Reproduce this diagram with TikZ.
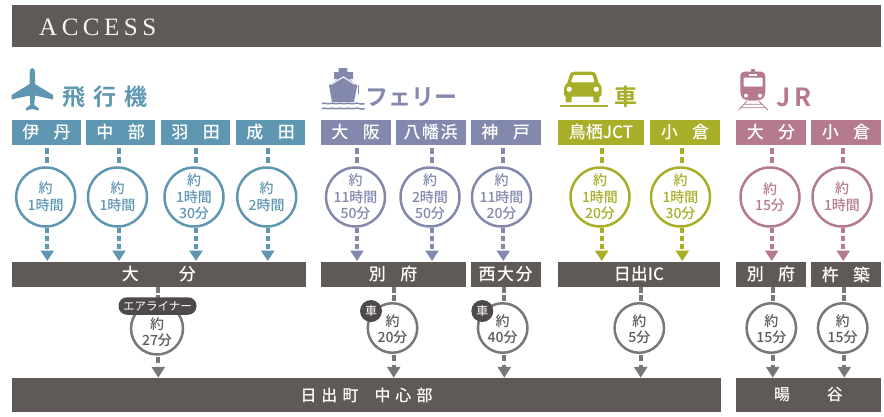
\documentclass[tikz,border=0pt]{standalone}
\usepackage{fontspec}
\usetikzlibrary{arrows.meta}
\setmainfont{Noto Sans CJK JP}[BoldFont={Noto Sans CJK JP Bold}]
\newfontfamily\medf{Noto Sans CJK JP Medium}
\newfontfamily\headf[LetterSpace=18]{Liberation Serif}
\definecolor{cblue}{HTML}{5F97B3}
\definecolor{cferry}{HTML}{8289AD}
\definecolor{ccar}{HTML}{A8AE28}
\definecolor{cjr}{HTML}{B67A90}
\definecolor{cdark}{HTML}{5F5A57}
\definecolor{cgray}{HTML}{7B7775}
\definecolor{cbadge}{HTML}{4F4A4A}
\tikzset{
  x=1pt,y=-1pt,
  lbl/.style={inner sep=0pt,outer sep=0pt,text=white,minimum height=25pt,font=\fontsize{17}{17}\selectfont\medf},
  bottomlbl/.style={lbl,minimum height=34.5pt,font=\fontsize{16}{16}\selectfont\medf},
  ring/.style={circle,draw=#1,line width=2.5pt,fill=white,inner sep=0pt,outer sep=0pt,minimum size=59pt,text=#1,font=\fontsize{14}{15}\selectfont\medf},
  lowring/.style={circle,draw=cgray,line width=2.5pt,fill=white,inner sep=0pt,outer sep=0pt,minimum size=#1,text=cdark,font=\fontsize{14}{15}\selectfont\medf},
  dashup/.style={line width=4pt,dash pattern=on 6pt off 3pt,shorten <=3pt,shorten >=4pt},
  arrowdn/.style={line width=4pt,dash pattern=on 5.5pt off 2.5pt,shorten <=1pt,-{Triangle[width=13pt,length=10.5pt]}},
  title/.style={inner sep=0pt,outer sep=0pt,font=\fontsize{23}{23}\selectfont\bfseries},
  badge/.style={circle,fill=cbadge,text=white,inner sep=0pt,outer sep=0pt,minimum size=22pt,font=\fontsize{12}{12}\selectfont},
  pill/.style={rounded corners=8.5pt,fill=cbadge,text=white,inner sep=0pt,outer sep=0pt,minimum width=78pt,minimum height=17.5pt,font=\fontsize{11.5}{12}\selectfont},
}
% text inside a ring that does not widen the ring
\newcommand\cc[2][-5pt]{\smash{\raisebox{#1}{\makebox[0pt]{\begin{tabular}[c]{@{}c@{}}#2\end{tabular}}}}}
\newcommand\upconn[5]{%
  \coordinate (tmp) at (#1,0);
  \draw[dashup,draw=#5] (#2.south -| tmp) -- (#3.north -| tmp);
  \draw[arrowdn,draw=#5,fill=#5,shorten >=1pt] (#3.south -| tmp) -- (#4.north -| tmp);
}
\newcommand\lowconn[4]{%
  \coordinate (tmp) at (#1,0);
  \draw[line width=4pt,draw=cgray,dash pattern=on 6pt off 2pt] (#2.south -| tmp) -- ([yshift=2pt]#3.north -| tmp);
  \draw[line width=4pt,draw=cgray,dash pattern=on 6pt off 4pt,-{Triangle[width=13pt,length=11pt]},shorten <=2pt,fill=cgray] (#3.south -| tmp) -- (#4.north -| tmp);
}
\begin{document}
\begin{tikzpicture}
\path[use as bounding box] (0,0) rectangle (884,416);
% header
\node[fill=cdark,minimum width=869pt,minimum height=42pt,inner sep=0pt,outer sep=0pt] (hdr) at (446.5,26) {};
\node[anchor=west,inner sep=0pt,text=white!94!cdark,font=\fontsize{25}{25}\headf] (acc) at (39,27.5) {ACCESS};

% titles
\node[title,text=cblue] (t1) at (105,97) {飛\hspace{8pt}行\hspace{8pt}機};
\node[title,text=cferry] (t2) at (411.5,97) {フェリー};
\node[title,text=ccar] (t3) at (626,97) {車};
\node[title,text=cjr,font=\fontsize{25}{25}\selectfont\bfseries] (t4) at (794,97) {J\hspace{4pt}R};

% icons: plane
\fill[cblue] (32.3,68) .. controls (30.5,68) and (29.7,70) .. (29.7,73) -- (29.7,84) -- (11.7,95) -- (11.7,99.5) -- (29.7,95.5) -- (30.3,105) -- (26,108) -- (26,110.5) -- (32.3,109) -- (38.5,110.5) -- (38.5,108) -- (34.3,105) -- (35,95.5) -- (53,99.5) -- (53,95) -- (35,84) -- (35,73) .. controls (35,70) and (34,68) .. (32.3,68) -- cycle;
% ship
\fill[cferry] (338.7,68) rectangle (347.3,72) (334,72) rectangle (353,79);
\fill[cferry] (329,85.3) -- (343.3,75) -- (357.3,85.3) -- (354,102) -- (332,102) -- cycle;
\draw[white,line width=1pt] (331,84.5) -- (343.3,77) -- (355,84.5);
\draw[cferry,line width=.7pt] (358.8,85) -- (358.8,94);
\draw[cferry,line width=1.5pt] (322,103.7) .. controls (325,101.7) and (327,105.2) .. (330,103.7) .. controls (333,101.7) and (335,105.2) .. (338,103.7) .. controls (341,101.7) and (343,105.2) .. (346,103.7) .. controls (349,101.7) and (351,105.2) .. (354,103.7) .. controls (357,101.7) and (360,105.2) .. (364.7,103.7);
\draw[cferry,line width=1.5pt] (322,108.7) .. controls (325,106.7) and (327,110.2) .. (330,108.7) .. controls (333,106.7) and (335,110.2) .. (338,108.7) .. controls (341,106.7) and (343,110.2) .. (346,108.7) .. controls (349,106.7) and (351,110.2) .. (354,108.7) .. controls (357,106.7) and (360,110.2) .. (364.7,108.7);
% car
\fill[ccar,rounded corners=2.5pt] (564,96.7) -- (564,86) -- (567,84) -- (570,74) -- (572,71.7) -- (594,71.7) -- (596,74) -- (599,84) -- (601.7,86) -- (601.7,96.7) -- cycle;
\fill[ccar,rounded corners=1pt] (565.7,94) rectangle (571.7,102.3) (593.3,94) rectangle (599.3,102.3);
\fill[white,rounded corners=1pt] (573.5,75) -- (592.5,75) -- (594.5,82.3) -- (571,82.3) -- cycle;
\fill[white] (569.3,89.3) circle (2.6) (596.3,89.3) circle (2.6);
\draw[ccar,line width=2.2pt] (560,106.3) -- (607.7,106.3);
% train
\fill[cjr,rounded corners=4pt] (740.3,71.7) -- (765.3,71.7) -- (765.3,96) -- (761,100.5) -- (745,100.5) -- (740.3,96) -- cycle;
\fill[cjr] (750.5,69) rectangle (755,72);
\fill[white] (748.7,74.3) rectangle (757,76);
\fill[white,rounded corners=1pt] (743.7,77.7) rectangle (762.7,86.7);
\fill[white] (746,95.7) circle (2) (760,95.7) circle (2);
\draw[cjr,line width=.8pt] (738.7,110) -- (747,101) (768,110) -- (758.7,101) (744,104.3) -- (763,104.3) (741.5,107.7) -- (765.5,107.7);

% top row boxes
\node[lbl,fill=cblue,minimum width=69.5pt] (b1) at (46.5,132.5) {伊\hspace{14.5pt}丹};
\node[lbl,fill=cblue,minimum width=69.5pt] (b2) at (120.7,132.5) {中\hspace{14.5pt}部};
\node[lbl,fill=cblue,minimum width=69.5pt] (b3) at (195.7,132.5) {羽\hspace{14.5pt}田};
\node[lbl,fill=cblue,minimum width=69.5pt] (b4) at (270.7,132.5) {成\hspace{14.5pt}田};
\node[lbl,fill=cferry,minimum width=70pt] (b5) at (355.7,132.5) {大\hspace{14.5pt}阪};
\node[lbl,fill=cferry,minimum width=70pt] (b6) at (430.7,132.5) {八\hspace{1.5pt}幡\hspace{1.5pt}浜};
\node[lbl,fill=cferry,minimum width=70pt] (b7) at (505.7,132.5) {神\hspace{14.5pt}戸};
\node[lbl,fill=ccar,minimum width=86pt] (b8) at (601,132.5) {鳥栖JCT};
\node[lbl,fill=ccar,minimum width=70pt] (b9) at (685,132.5) {小\hspace{14.5pt}倉};
\node[lbl,fill=cjr,minimum width=70pt] (b10) at (771,132.5) {大\hspace{14.5pt}分};
\node[lbl,fill=cjr,minimum width=70pt] (b11) at (846,132.5) {小\hspace{14.5pt}倉};

% middle bars
\node[lbl,fill=cdark,minimum width=293.8pt] (m1) at (158.9,274.5) {大\hspace{40pt}分};
\node[lbl,fill=cdark,minimum width=145pt] (m2) at (393.2,274.5) {別\hspace{14.5pt}府};
\node[lbl,fill=cdark,minimum width=70pt] (m3) at (505.7,274.5) {西\hspace{1.5pt}大\hspace{1.5pt}分};
\node[lbl,fill=cdark,minimum width=162pt] (m4) at (639,274.5) {日出IC};
\node[lbl,fill=cdark,minimum width=70pt] (m5) at (771,274.5) {別\hspace{14.5pt}府};
\node[lbl,fill=cdark,minimum width=70pt] (m6) at (846,274.5) {杵\hspace{14.5pt}築};

% bottom bars
\node[bottomlbl,fill=cdark,minimum width=709pt] (z1) at (366.5,395) {日\hspace{5pt}出\hspace{5pt}町\hspace{16pt}中\hspace{5pt}心\hspace{5pt}部};
\node[bottomlbl,fill=cdark,minimum width=145pt] (z2) at (808.5,395) {暘\hspace{37pt}谷};

% upper circles
\node[ring=cblue] (c1) at (45.7,197) {\cc{約\\1時間}};
\node[ring=cblue] (c2) at (117.5,197) {\cc{約\\1時間}};
\node[ring=cblue] (c3) at (194,197) {\cc{約\\1時間\\30分}};
\node[ring=cblue] (c4) at (266.7,197) {\cc{約\\2時間}};
\node[ring=cferry] (c5) at (355.5,197) {\cc{約\\11時間\\50分}};
\node[ring=cferry] (c6) at (430,197) {\cc{約\\2時間\\50分}};
\node[ring=cferry] (c7) at (501.5,197) {\cc{約\\11時間\\20分}};
\node[ring=ccar] (c8) at (600,197) {\cc{約\\1時間\\20分}};
\node[ring=ccar] (c9) at (680.5,197) {\cc{約\\1時間\\30分}};
\node[ring=cjr] (c10) at (770,197) {\cc{約\\15分}};
\node[ring=cjr] (c11) at (842,197) {\cc{約\\1時間}};

\upconn{47.3}{b1}{c1}{m1}{cblue}
\upconn{119}{b2}{c2}{m1}{cblue}
\upconn{196}{b3}{c3}{m1}{cblue}
\upconn{267.7}{b4}{c4}{m1}{cblue}
\upconn{357}{b5}{c5}{m2}{cferry}
\upconn{432}{b6}{c6}{m2}{cferry}
\upconn{503.3}{b7}{c7}{m3}{cferry}
\upconn{601.7}{b8}{c8}{m4}{ccar}
\upconn{682.3}{b9}{c9}{m4}{ccar}
\upconn{771.7}{b10}{c10}{m5}{cjr}
\upconn{843.3}{b11}{c11}{m6}{cjr}

% lower circles
\node[lowring=52pt] (d1) at (157,328.5) {\cc[-9pt]{約\\27分}};
\node[lowring=49.5pt] (d2) at (392.5,328) {\cc[-6pt]{約\\20分}};
\node[lowring=49.5pt] (d3) at (502.7,328) {\cc[-6pt]{約\\40分}};
\node[lowring=49.5pt] (d4) at (639.3,328) {\cc[-6pt]{約\\5分}};
\node[lowring=49.5pt] (d5) at (771.3,328) {\cc[-6pt]{約\\15分}};
\node[lowring=49.5pt] (d6) at (842.7,328) {\cc[-6pt]{約\\15分}};

\lowconn{158.3}{m1}{d1}{z1}
\lowconn{393.7}{m2}{d2}{z1}
\lowconn{504.3}{m3}{d3}{z1}
\lowconn{640.7}{m4}{d4}{z1}
\lowconn{772.7}{m5}{d5}{z2}
\lowconn{844.3}{m6}{d6}{z2}

\node[pill] (p1) at (157.5,306) {エアライナー};
\node[badge] (e1) at (371,311) {車};
\node[badge] (e2) at (482.3,311) {車};
\end{tikzpicture}
\end{document}
